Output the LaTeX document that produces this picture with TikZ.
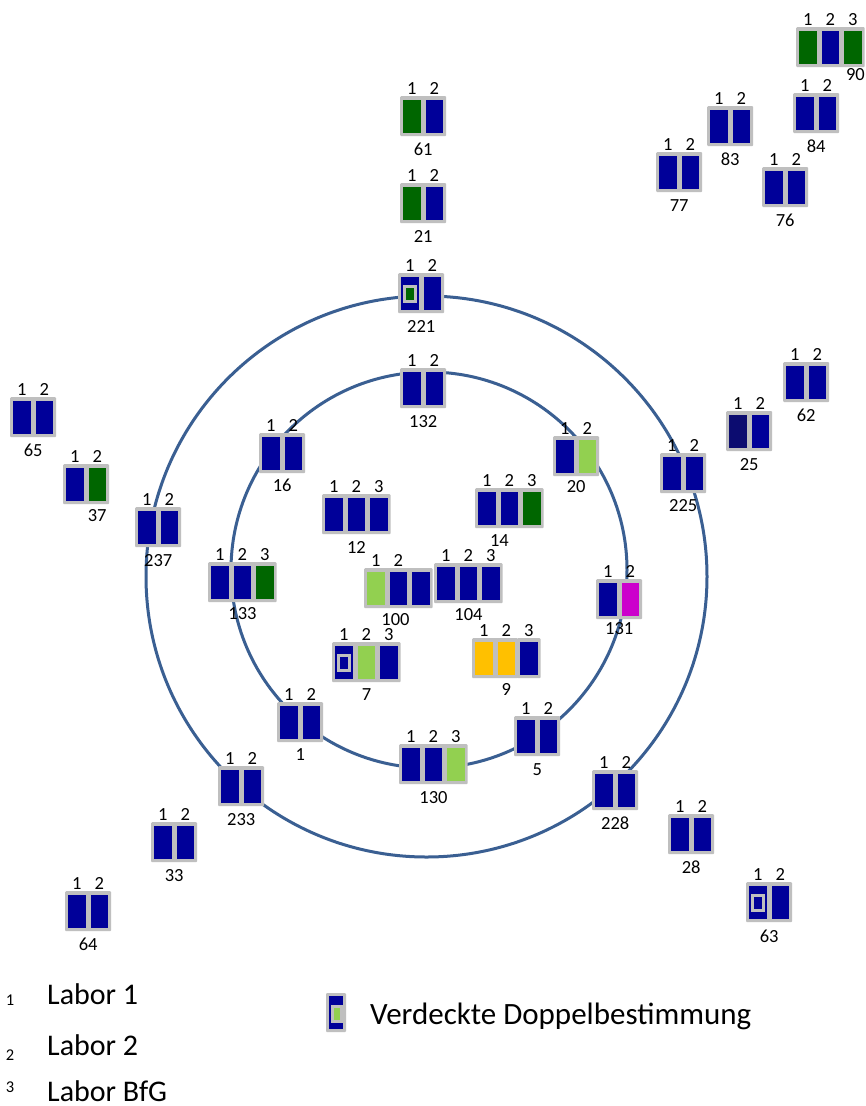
\documentclass[tikz,border=0pt]{standalone}
\usepackage{fontspec}
\setmainfont{Carlito}
\usetikzlibrary{calc}
\definecolor{navy}{HTML}{000099}
\definecolor{darknavy}{HTML}{0C0C70}
\definecolor{dgreen}{HTML}{006600}
\definecolor{lgreen}{HTML}{92D050}
\definecolor{amber}{HTML}{FFC000}
\definecolor{magent}{HTML}{CC00CC}
\definecolor{framec}{HTML}{BFBFBF}
\definecolor{ring}{HTML}{3A5F92}
\tikzset{
  boxbg/.style={rectangle, fill=framec, draw=none, minimum height=40pt, inner sep=0pt, rounded corners=1pt},
  cellst/.style={rectangle, draw=none, minimum width=17.5pt, minimum height=33pt, inner sep=0pt},
  toplab/.style={anchor=base, inner sep=0pt, font=\fontsize{18.5}{19}\selectfont},
  botlab/.style={anchor=base, inner sep=0pt, font=\fontsize{18.5}{19}\selectfont},
  innerfr/.style={rectangle, draw=framec, line width=3pt, minimum width=11pt, minimum height=15pt, inner sep=0pt},
  ringline/.style={draw=ring, line width=3pt},
  legtext/.style={anchor=base west, inner sep=0pt, font=\fontsize{30}{32}\selectfont},
  legnum/.style={anchor=base, inner sep=0pt, font=\fontsize{16.5}{17}\selectfont}
}
% #1 name, #2 x, #3 y, #4 cells, #5 colours, #6 top labels, #7 bottom label, #8 label offset
\newcommand{\mybox}[8]{%
  \pgfmathsetmacro\bw{1+22.5*#4}
  \node[boxbg, minimum width=\bw pt, anchor=north west] (#1) at (#2,-#3) {};
  \foreach \c [count=\i] in {#5} {
    \node[cellst, fill=\c, anchor=north west] (#1-c\i) at ($(#1.north west)+({3+22.5*(\i-1)},-3.5)$) {};
  }
  \foreach \t [count=\i] in {#6} {
    \node[toplab] at ($(#1.north west)+({11.75+22.5*(\i-1)},2)$) {\t};
  }
  \node[botlab] (#1-l) at ($(#1.south)+(#8)$) {#7};
}
\newcommand{\frcell}[2]{%
  \node[innerfr, fill=#2] at ($(#1.north west)+(8.5,-17.5)$) {};
}
\begin{document}
\begin{tikzpicture}[x=1pt, y=1pt]
\useasboundingbox (0,0) rectangle (866,-1106);
\fill[white] (0,0) rectangle (866,-1106);
% rings
\draw[ringline] (426.5,-576.5) circle (280.5);
\draw[ringline] (429,-570) circle (198);
% boxes
\mybox{b90}{796}{27}{3}{dgreen,navy,dgreen}{1,2,3}{90}{25,-13}
\mybox{b84}{793}{93}{2}{navy,navy}{1,2}{84}{0,-19}
\mybox{b83}{707}{106}{2}{navy,navy}{1,2}{83}{0,-19}
\mybox{b77}{656}{152}{2}{navy,navy}{1,2}{77}{0,-19}
\mybox{b76}{762}{167}{2}{navy,navy}{1,2}{76}{0,-19}
\mybox{b61}{400}{96}{2}{dgreen,navy}{1,2}{61}{0,-19}
\mybox{b21}{400}{183}{2}{dgreen,navy}{1,2}{21}{0,-19}
\mybox{b221}{398}{273}{2}{navy,navy}{1,2}{221}{0,-19}
\frcell{b221-c1}{dgreen}
\mybox{b132}{400}{368}{2}{navy,navy}{1,2}{132}{0,-19}
\mybox{b65}{10}{397}{2}{navy,navy}{1,2}{65}{0,-19}
\mybox{b37}{63}{464}{2}{navy,dgreen}{1,2}{37}{11,-17}
\mybox{b16}{259}{433}{2}{navy,navy}{1,2}{16}{0,-18}
\mybox{b237}{135}{507}{2}{navy,navy}{1,2}{237}{0,-19}
\mybox{b133}{208}{562}{3}{navy,navy,dgreen}{1,2,3}{133}{0,-17}
\mybox{b12}{322}{494}{3}{navy,navy,navy}{1,2,3}{12}{0,-19}
\mybox{b14}{475}{488}{3}{navy,navy,dgreen}{1,2,3}{14}{-10,-18}
\mybox{b20}{553}{436}{2}{navy,lgreen}{1,2}{20}{0,-16}
\mybox{b225}{660}{453}{2}{navy,navy}{1,2}{225}{0,-18}
\mybox{b25}{726}{411}{2}{darknavy,navy}{1,2}{25}{0,-19}
\mybox{b62}{783}{362}{2}{navy,navy}{1,2}{62}{0,-19}
\mybox{b100}{364}{568}{3}{lgreen,navy,navy}{1,2}{100}{-3,-17}
\mybox{b104}{434}{563}{3}{navy,navy,navy}{1,2,3}{104}{0,-17}
\mybox{b131}{596}{579}{2}{navy,magent}{1,2}{131}{0,-15}
\mybox{b7}{332}{642}{3}{navy,lgreen,navy}{1,2,3}{7}{0,-18}
\frcell{b7-c1}{navy}
\mybox{b9a}{472}{638}{2}{amber,amber}{1,2}{9}{11,-17}
\mybox{b9b}{517}{638}{1}{navy}{3}{}{0,-17}
\mybox{b1}{277}{702}{2}{navy,navy}{1,2}{1}{0,-18}
\mybox{b130}{399}{744}{3}{navy,navy,lgreen}{1,2,3}{130}{0,-19}
\mybox{b5}{514}{716}{2}{navy,navy}{1,2}{5}{0,-19}
\mybox{b233}{218}{766}{2}{navy,navy}{1,2}{233}{0,-19}
\mybox{b228}{592}{770}{2}{navy,navy}{1,2}{228}{0,-19}
\mybox{b33}{151}{822}{2}{navy,navy}{1,2}{33}{0,-19}
\mybox{b28}{668}{814}{2}{navy,navy}{1,2}{28}{0,-19}
\mybox{b64}{65}{891}{2}{navy,navy}{1,2}{64}{0,-19}
\mybox{b63}{746}{882}{2}{navy,navy}{1,2}{63}{0,-20}
\frcell{b63-c1}{navy}
% legend
\node[legnum] (s1) at (10,-1005) {1};
\node[legtext] (l1) at (47,-1004) {Labor 1};
\node[legnum] (s2) at (10,-1060) {2};
\node[legtext] (l2) at (47,-1055) {Labor 2};
\node[legnum] (s3) at (10,-1092) {3};
\node[legtext] (l3) at (47,-1101) {Labor BfG};
\node[boxbg, minimum width=20pt, minimum height=39pt] (leg) at (336,-1012.5) {};
\node[cellst, fill=navy, minimum width=14pt, minimum height=33pt] (legc) at (leg.center) {};
\node[innerfr, fill=lgreen, minimum width=9pt, minimum height=15pt] (legf) at (337,-1014) {};
\node[legtext, font=\fontsize{31}{33}\selectfont] (vd) at (370,-1024) {Verdeckte Doppelbestimmung};
\end{tikzpicture}
\end{document}
